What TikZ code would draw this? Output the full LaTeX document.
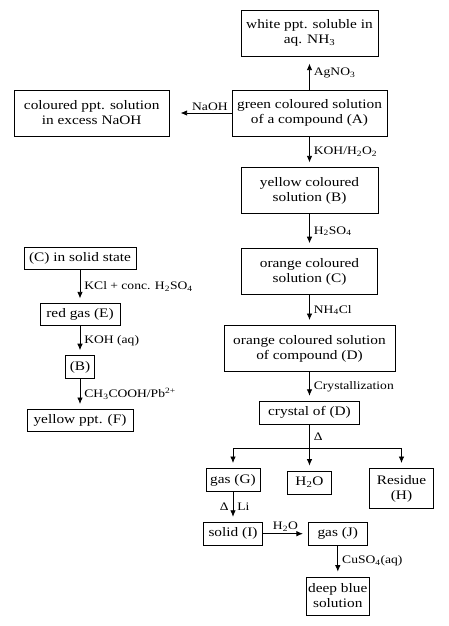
\documentclass[tikz,border=0pt]{standalone}
\usepackage{fontspec}
\setmainfont{Liberation Serif}[FakeStretch=1.18]
\usetikzlibrary{positioning,arrows.meta}
\tikzset{box/.style={draw, line width=0.8pt, align=center, inner sep=1pt, minimum height=23pt, font=\fontsize{13}{15}\selectfont},
  tall/.style={minimum height=46pt},
  link/.style={line width=0.8pt, -{Latex[length=6.5pt,width=5.5pt]}, shorten >=5pt},
  reagent/.style={font=\fontsize{11.5}{13}\selectfont, inner sep=4pt}}

\begin{document}
\begin{tikzpicture}[x=1pt,y=-1pt]
\useasboundingbox (0,0) rectangle (448,626);
\node[box, tall, minimum width=155pt] (A) at (309.5,113) {green coloured solution\\of a compound (A)};
\node[box, tall, minimum width=137pt] (W) [above=33pt of A] {white ppt. soluble in\\aq. NH\textsubscript{3}};
\node[box, tall, minimum width=155pt] (X) [left=62pt of A] {coloured ppt. solution\\in excess NaOH};
\node[box, tall, minimum width=137pt] (B) [below=31pt of A] {yellow coloured\\solution (B)};
\node[box, tall, minimum width=136pt] (C) [below=34pt of B] {orange coloured\\solution (C)};
\node[box, tall, minimum width=171pt] (D) [below=30pt of C] {orange coloured solution\\of compound (D)};
\node[box, minimum width=100pt] (K) [below=29pt of D] {crystal of (D)};
\coordinate[below=24pt of K] (br);
\node[box, minimum width=44pt] (Wt) [below=22pt of br] {H\textsubscript{2}O};
\node[box, minimum width=54pt, anchor=north] (G) at (233,468) {gas (G)};
\node[box, minimum width=64pt, minimum height=40pt, anchor=north] (H) at (401.5,468) {Residue\\(H)};
\node[box, minimum width=59pt] (I) [below=30pt of G] {solid (I)};
\node[box, minimum width=59pt] (J) [right=45pt of I] {gas (J)};
\node[box, minimum width=63pt, minimum height=38pt] (L) [below=31pt of J] {deep blue\\solution};

\node[box, minimum width=112pt, minimum height=22pt] (Cs) at (80,258) {(C) in solid state};
\node[box, minimum width=80pt, minimum height=22pt] (E) [below=34pt of Cs] {red gas (E)};
\node[box, minimum width=29pt] (Bb) [below=29pt of E] {(B)};
\node[box, minimum width=106pt, minimum height=22pt] (F) [below=30pt of Bb] {yellow ppt. (F)};

\draw[link, shorten >=7pt] (A) -- node[reagent, right] {AgNO\textsubscript{3}} (W);
\draw[link, shorten >=11pt] (A) -- node[reagent, above, pos=0.35, inner sep=2pt] {NaOH} (X);
\draw[link] (A) -- node[reagent, right] {KOH/H\textsubscript{2}O\textsubscript{2}} (B);
\draw[link] (B) -- node[reagent, right] {H\textsubscript{2}SO\textsubscript{4}} (C);
\draw[link] (C) -- node[reagent, right] {NH\textsubscript{4}Cl} (D);
\draw[link] (D) -- node[reagent, right] {Crystallization} (K);
\draw[line width=0.8pt] (K) -- node[reagent, right] {Δ} (br);
\draw[link] (br) -| (G);
\draw[link] (br) -- (Wt);
\draw[link] (br) -| (H);
\draw[link] (G) -- node[reagent, left] {Δ} node[reagent, right] {Li} (I);
\draw[link] (I) -- node[reagent, above, inner sep=2pt] {H\textsubscript{2}O} (J);
\draw[link] (J) -- node[reagent, right] {CuSO\textsubscript{4}(aq)} (L);

\draw[link] (Cs) -- node[reagent, right] {KCl + conc. H\textsubscript{2}SO\textsubscript{4}} (E);
\draw[link] (E) -- node[reagent, right] {KOH (aq)} (Bb);
\draw[link] (Bb) -- node[reagent, right] {CH\textsubscript{3}COOH/Pb\textsuperscript{2+}} (F);
\end{tikzpicture}
\end{document}
